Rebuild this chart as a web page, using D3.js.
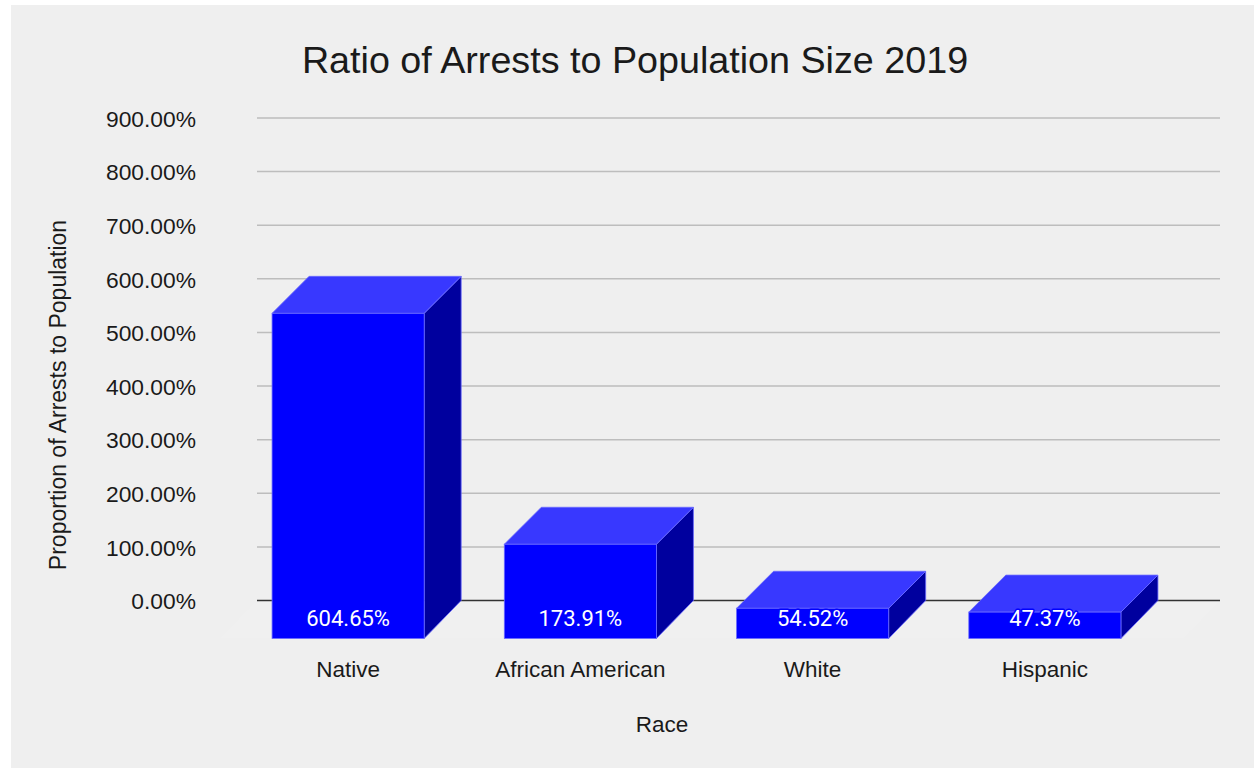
<!DOCTYPE html>
<html>
<head>
<meta charset="utf-8">
<script src="https://cdn.jsdelivr.net/npm/d3@7"></script>
<style>
  html, body { margin: 0; padding: 0; background: #ffffff; }
  svg { display: block; }
</style>
</head>
<body>
<svg id="chart" width="1254" height="769"></svg>
<script>
// ---- data ----
const categories = ["Native", "African American", "White", "Hispanic"];
const values = [604.65, 173.91, 54.52, 47.37];          // percent
const valueLabels = ["604.65%", "173.91%", "54.52%", "47.37%"];
const yTicks = [0, 100, 200, 300, 400, 500, 600, 700, 800, 900];
const title = "Ratio of Arrests to Population Size 2019";
const xTitle = "Race";
const yTitle = "Proportion of Arrests to Population";

// ---- layout ----
const W = 1254, H = 769;
const depth = 37;                 // 3D offset (px)
const wallLeft = 257, wallRight = 1220;
const svg = d3.select("#chart");

svg.append("rect").attr("x", 11).attr("y", 5).attr("width", W - 11).attr("height", H - 6)
  .attr("fill", "#efefef");

const y = d3.scaleLinear().domain([0, 900]).range([600.5, 118]);
const x = d3.scaleBand().domain(categories).range([232, 1161])
  .paddingInner(0.345).paddingOuter(0.1725);

const axisFont = "'Liberation Sans', Arial, sans-serif";

// title
svg.append("text").attr("x", 635).attr("y", 73).attr("text-anchor", "middle")
  .attr("font-family", axisFont).attr("font-size", 37.7).attr("fill", "#1a1a1a")
  .text(title);

// floor (subtle)
const y0 = y(0);
svg.append("path")
  .attr("d", `M${wallLeft},${y0} L${wallRight},${y0} L${wallRight - depth},${y0 + depth + 1} L${wallLeft - depth},${y0 + depth + 1} Z`)
  .attr("fill", "#f0f0f0");

// gridlines
const grid = svg.append("g");
grid.selectAll("line").data(yTicks.filter(d => d !== 0)).join("line")
  .attr("x1", wallLeft).attr("x2", wallRight)
  .attr("y1", d => y(d)).attr("y2", d => y(d))
  .attr("stroke", "#bdbdbd").attr("stroke-width", 1.5);
svg.append("line").attr("x1", wallLeft).attr("x2", wallRight)
  .attr("y1", y0).attr("y2", y0).attr("stroke", "#333").attr("stroke-width", 1.5);

// y tick labels via axis
const yAxis = svg.append("g").attr("transform", "translate(196,0)")
  .call(d3.axisLeft(y).tickValues(yTicks).tickSize(0).tickPadding(0)
    .tickFormat(d => d3.format(".2f")(d) + "%"));
yAxis.select(".domain").remove();
yAxis.selectAll("text").attr("font-family", axisFont).attr("font-size", 22.8)
  .attr("fill", "#1a1a1a").attr("dy", "0.36em");

// bars
const bars = svg.append("g").selectAll("g").data(categories).join("g");
bars.each(function (c, i) {
  const g = d3.select(this);
  const fx = x(c), bw = x.bandwidth();
  const top = y(values[i]);
  const edge = "#6a6aff";
  const bot = y0 + depth + 1;
  // side
  g.append("path")
    .attr("d", `M${fx + bw},${top + depth} L${fx + bw + depth},${top} L${fx + bw + depth},${y0} L${fx + bw},${bot} Z`)
    .attr("fill", "#00009e").attr("stroke", edge).attr("stroke-width", 0.8);
  // top
  g.append("path")
    .attr("d", `M${fx},${top + depth} L${fx + depth},${top} L${fx + bw + depth},${top} L${fx + bw},${top + depth} Z`)
    .attr("fill", "#3838ff").attr("stroke", edge).attr("stroke-width", 0.8);
  // front
  g.append("rect").attr("x", fx).attr("y", top + depth)
    .attr("width", bw).attr("height", bot - (top + depth))
    .attr("fill", "#0000ff").attr("stroke", edge).attr("stroke-width", 0.8);
  // value label
  g.append("text").attr("x", fx + bw / 2).attr("y", 626).attr("text-anchor", "middle")
    .attr("font-family", "Roboto, sans-serif").attr("font-size", 22)
    .attr("fill", "#ffffff").attr("stroke", "#0000ff").attr("stroke-width", 3)
    .attr("paint-order", "stroke").attr("stroke-linejoin", "round")
    .text(valueLabels[i]);
});

// category labels
svg.append("g").selectAll("text").data(categories).join("text")
  .attr("x", d => x(d) + x.bandwidth() / 2).attr("y", 677)
  .attr("text-anchor", "middle").attr("font-family", axisFont).attr("font-size", 22.5)
  .attr("fill", "#1a1a1a").text(d => d);

// axis titles
svg.append("text").attr("x", 662).attr("y", 732).attr("text-anchor", "middle")
  .attr("font-family", axisFont).attr("font-size", 22.5).attr("fill", "#1a1a1a").text(xTitle);
svg.append("text").attr("transform", "translate(66,395) rotate(-90)").attr("text-anchor", "middle")
  .attr("font-family", axisFont).attr("font-size", 23).attr("fill", "#1a1a1a").text(yTitle);
</script>
</body>
</html>
